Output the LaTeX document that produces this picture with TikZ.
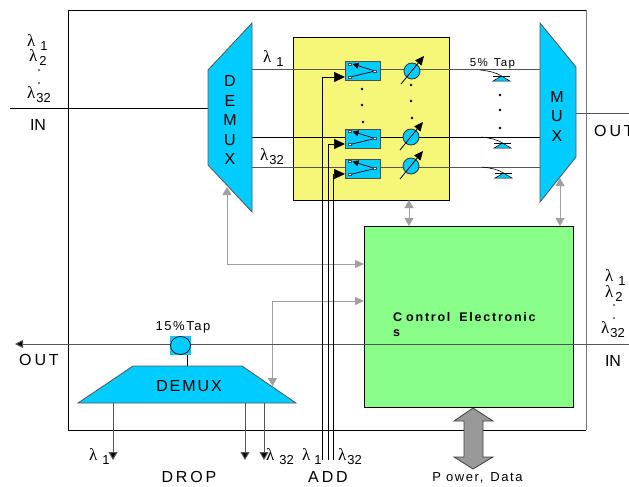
\documentclass[tikz,border=0pt]{standalone}
\usepackage{fontspec}
\setmainfont{Liberation Sans}
\newfontfamily\lamfont{Liberation Serif}
\newfontfamily\spacedfont[LetterSpace=18]{Liberation Sans}
\newfontfamily\tapfont[LetterSpace=12]{Liberation Sans}
\newfontfamily\boldspaced[LetterSpace=14]{Liberation Sans Bold}
\usetikzlibrary{arrows.meta,shapes.geometric}
\definecolor{muxblue}{HTML}{00CCFF}
\definecolor{boxyellow}{HTML}{F6F678}
\definecolor{boxgreen}{HTML}{88FF88}
\definecolor{ctrlgray}{HTML}{A0A0A0}
\definecolor{fibergray}{HTML}{555555}
\newcommand{\lam}[2]{{\fontsize{17}{17}\lamfont λ}\kern#1pt\raisebox{-4pt}{\fontsize{13}{13}\selectfont #2}}
\tikzset{
  every node/.style={inner sep=0pt},
  muxshape/.style={draw=fibergray,fill=muxblue,line width=0.8pt},
  fiber/.style={draw=fibergray,line width=1pt},
  fiberblack/.style={draw=black,line width=0.8pt},
  ctrl/.style={draw=ctrlgray,line width=0.9pt,-{Triangle[length=9pt,width=8pt]}},
  ctrlboth/.style={draw=ctrlgray,line width=0.9pt,{Triangle[length=8pt,width=9pt]}-{Triangle[length=8pt,width=9pt]}},
  addline/.style={draw=black,line width=0.7pt,-{Triangle[length=11pt,width=10pt]}},
  dropline/.style={draw=fibergray,line width=1pt,-{Triangle[length=8pt,width=9pt,fill=black]}},
  switchbox/.style={draw=black!70,fill=muxblue,line width=0.9pt,minimum width=35pt,minimum height=19pt},
  attn/.style={circle,draw=black!80,fill=muxblue,line width=0.8pt,minimum size=16pt},
  tune/.style={draw=black,line width=0.8pt,-{Triangle[length=9pt,width=8pt]}},
  dotmark/.style={circle,fill=black,minimum size=2.6pt},
  biglabel/.style={font=\fontsize{16}{16}\spacedfont},
  stacklabel/.style={align=center,font=\fontsize{16}{19.5}\selectfont}
}
\begin{document}
\begin{tikzpicture}[x=1pt,y=-1pt]
\useasboundingbox (0,0) rectangle (629,487);
% outer card
\draw [black,line width=0.8pt] (586,430) -- (68,430) -- (68,10) -- (586,10);
\draw [draw=fibergray!80,line width=1pt] (586,10) -- (586,430);
\node [draw=black,fill=boxyellow,line width=0.9pt,minimum width=156pt,minimum height=163pt] (core) at (371,118.5) {};
\node [draw=black,fill=boxgreen,line width=0.9pt,minimum width=209pt,minimum height=181pt] (control) at (468.5,316.5) {};

% line ends
\coordinate (inL) at (10,108);
\coordinate (inR) at (208,108);
\coordinate (outL) at (576,113);
\coordinate (outR) at (629,113);
\coordinate (chA) at (252,70);
\coordinate (chB) at (252,137);
\coordinate (chC) at (252,167);
\coordinate (endA) at (540,70);
\coordinate (endB) at (540,137);
\coordinate (endC) at (540,167);
\draw [fiberblack] (inL) -- (inR);
\draw [fiber,line width=0.8pt] (outL) -- (outR);
\draw [fiber] (chA) -- (endA);
\draw [fiberblack] (chB) -- (endB);
\draw [fiber] (chC) -- (endC);

% demux and mux
\draw [muxshape] (208,70) -- (252,23) -- (252,212) -- (208,165) -- cycle;
\draw [muxshape] (540,23) -- (576,67) -- (576,157) -- (540,202) -- cycle;
\node [stacklabel] (demuxText) at (230,120) {D\\E\\M\\U\\X};
\node [stacklabel] (muxText) at (557,116) {M\\U\\X};

% switches
\foreach \i/\y/\yin in {A/71/77,B/138.5/144,C/168.5/174}{
  \node [switchbox] (sw\i) at (362.5,\y) {};
  \coordinate (swIn\i) at (345,\yin);
  \draw [black,line width=0.7pt,-{Triangle[length=6pt,width=6pt]}] ([shift={(12.5,0)}]sw\i.center) -- ([shift={(-10,-7)}]sw\i.center);
  \draw [black,line width=0.7pt] ([shift={(12.5,0)}]sw\i.center) -- ([shift={(-12.5,6)}]sw\i.center);
  \foreach \dx/\dy in {-12.5/-7,-12.5/6,12.5/0}
    \fill [white,draw=black!70,line width=0.4pt] ([shift={(\dx-1.5,\dy-1)}]sw\i.center) rectangle ([shift={(\dx+1.5,\dy+1)}]sw\i.center);
}
% attenuators
\foreach \i/\x/\y in {A/412/71,B/411/137,C/411/166}{
  \node [attn] (att\i) at (\x,\y) {};
  \draw [tune] ([shift={(-11,13)}]att\i.center) -- ([shift={(12,-15)}]att\i.center);
}
\foreach \i/\x/\y in {a/362/89,b/362/105,c/363/122,d/411/85,e/411/101,f/412/118,g/500/95,h/500/110,k/500/128}
  \node [dotmark] (dot\i) at (\x,\y) {};

% 5% taps
\foreach \i/\x/\y in {A/480/70,B/481/137,C/482/167}{
  \coordinate (tap\i) at (\x,\y);
  \fill [muxblue,draw=black,line width=0.5pt] (\x+13,\y+11) -- (\x+21.5,\y+6) -- (\x+30,\y+11) -- cycle;
  \draw [black,line width=0.6pt] (tap\i) .. controls (\x+10,\y+1) and (\x+17,\y+3) .. (\x+21.5,\y+6);
  \draw [black,line width=0.6pt] (\x+13,\y+6) -- (\x+30,\y+6);
}
\node (tapText) at (492.5,64) {\fontsize{11.5}{11.5}\tapfont 5\%\kern6pt Tap};

% control arrows
\coordinate (ctrlYellow) at (409,200);
\coordinate (ctrlYellowB) at (409,226);
\coordinate (ctrlMux) at (560,178);
\coordinate (ctrlMuxB) at (560,226);
\coordinate (ctrlDemux) at (227,187);
\coordinate (ctrlDemuxB) at (364,264);
\coordinate (ctrlDrop) at (272.5,386);
\coordinate (ctrlDropB) at (364,301);
\draw [ctrlboth] (ctrlYellow) -- (ctrlYellowB);
\draw [ctrlboth] (ctrlMux) -- (ctrlMuxB);
\draw [ctrlgray,line width=0.9pt,{Triangle[length=8pt,width=9pt]}-{Triangle[length=9pt,width=8pt]}] (ctrlDemux) |- (ctrlDemuxB);
\draw [ctrlgray,line width=0.9pt,-{Triangle[length=9pt,width=8pt]}] (ctrlDrop) |- (ctrlDropB);

% lower path with drop demux
\coordinate (lowIn) at (629,344);
\coordinate (lowOut) at (15,344);
\draw [draw=fibergray,line width=1pt,-{Triangle[length=8pt,width=8pt,fill=black]}] (lowIn) -- (lowOut);
\node [fill=muxblue,minimum width=21pt,minimum height=19pt] (tapSquare) at (180.5,345.5) {};
\node [ellipse,draw=black,fill=muxblue,line width=0.7pt,minimum width=20pt,minimum height=18pt] (tapLow) at (180.5,345.5) {};
\coordinate (tapDrop) at (187,366);
\draw [fiberblack] (tapDrop |- tapLow.south) -- (tapDrop);
\draw [muxshape] (133,366) -- (242,366) -- (296,403) -- (78,403) -- cycle;
\draw [ctrlgray,line width=0.9pt,-{Triangle[length=8pt,width=9pt]}] (272.5,370) -- (ctrlDrop);
\node [font=\fontsize{16}{16}\tapfont] (dropDemux) at (189,386) {DEMUX};
\foreach \i/\x in {A/113,B/245,C/264}{
  \coordinate (dropTop\i) at (\x,403);
  \coordinate (dropEnd\i) at (\x,460);
  \draw [dropline] (dropTop\i) -- (dropEnd\i);
}
% add lines
\foreach \i/\x in {A/322,B/328.5,C/333}{
  \coordinate (addEnd\i) at (\x,460);
  \draw [addline] (addEnd\i) |- (swIn\i);
}

% power arrow
\draw [draw=black!75,fill=gray!80,line width=0.8pt] (473,408) -- (493,421) -- (483,421) -- (483,457) -- (493,457) -- (473,469) -- (454,457) -- (464,457) -- (464,421) -- (454,421) -- cycle;

% labels
\node [anchor=base west] (lamLa) at (27,47) {\lam{5}{1}};
\node [anchor=base west] (lamLb) at (29,62) {\lam{2}{2}};
\node [anchor=base west] (lamLc) at (27,98) {\lam{1}{32}};
\node [dotmark,minimum size=1.6pt] (dotLa) at (39,70) {};
\node [dotmark,minimum size=1.6pt] (dotLb) at (39,83) {};
\node [font=\fontsize{16}{16}\selectfont] (inLeft) at (38,125) {IN};
\node [anchor=base west] (lamRa) at (605,281) {\lam{5}{1}};
\node [anchor=base west] (lamRb) at (605,297) {\lam{2}{2}};
\node [anchor=base west] (lamRc) at (601,333) {\lam{1}{32}};
\node [dotmark,minimum size=1.6pt] (dotRa) at (614,305) {};
\node [dotmark,minimum size=1.6pt] (dotRb) at (614,318) {};
\node [font=\fontsize{16}{16}\selectfont] (inRight) at (613,361) {IN};
\node [biglabel,anchor=west] (outRight) at (594,131) {OUT};
\node [biglabel] (outLeft) at (39,360) {OUT};
\node [anchor=base west] (lamTa) at (263,63) {\lam{5}{1}};
\node [anchor=base west] (lamTc) at (260,160) {\lam{1}{32}};
\node [anchor=base west] (lamDa) at (89,460) {\lam{5}{1}};
\node [anchor=base west] (lamDc) at (266,460) {\lam{5}{32}};
\node [anchor=base west] (lamAa) at (302,460) {\lam{4}{1}};
\node [anchor=base west] (lamAc) at (338,460) {\lam{1}{32}};
\node [biglabel] (dropText) at (189,477) {DROP};
\node [biglabel] (addText) at (328,477) {ADD};
\node (tapLowText) at (183,327) {\fontsize{13}{13}\tapfont 15\%Tap};
\node [anchor=north west,align=left,font=\fontsize{12.5}{14.5}\boldspaced] (controlText) at (393,312.5) {C\kern4pt ontrol\kern9pt Electronic\\s};
\node (powerText) at (477.5,478) {\fontsize{13}{13}\tapfont P\kern5pt ower,\kern7pt Data};
\end{tikzpicture}
\end{document}
